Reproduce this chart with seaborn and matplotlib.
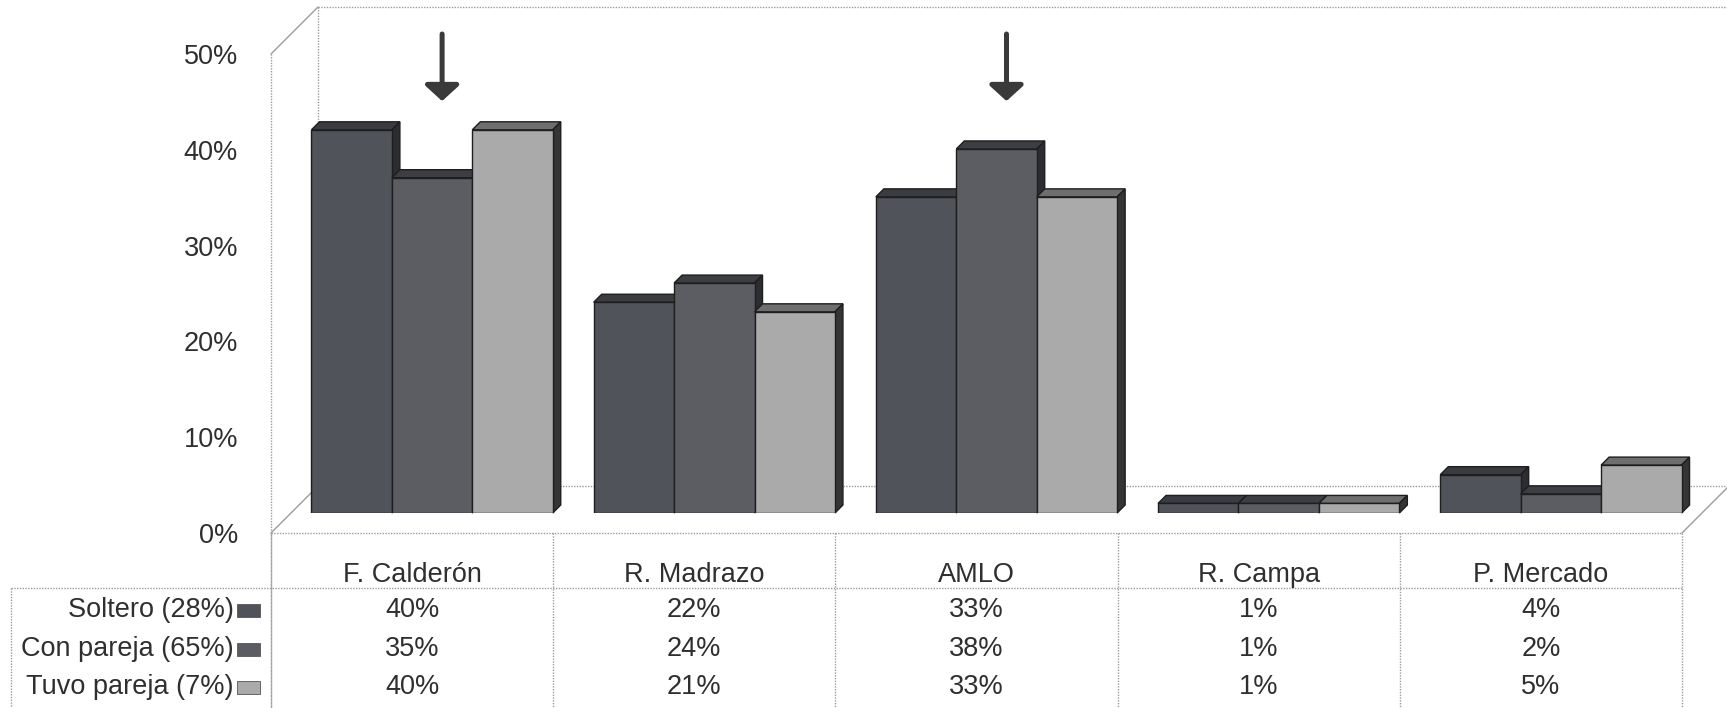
import pandas as pd
import matplotlib
matplotlib.use("Agg")
import matplotlib.pyplot as plt
import seaborn as sns
from matplotlib.patches import Polygon, Rectangle

# Data
candidatos = ["F. Calderón", "R. Madrazo", "AMLO", "R. Campa", "P. Mercado"]
grupos = ["Soltero (28%)", "Con pareja (65%)", "Tuvo pareja (7%)"]
soltero = [40, 22, 33, 1, 4]
con_pareja = [35, 24, 38, 1, 2]
tuvo_pareja = [40, 21, 33, 1, 5]
ticks = [0, 10, 20, 30, 40, 50]
flechas = ["F. Calderón", "AMLO"]

df = pd.DataFrame({
    "candidato": candidatos * 3,
    "grupo": [g for g in grupos for _ in candidatos],
    "pct": soltero + con_pareja + tuvo_pareja,
})

colores = {grupos[0]: "#50535a", grupos[1]: "#5b5d63", grupos[2]: "#aaaaaa"}
techo = {grupos[0]: "#3a3c42", grupos[1]: "#3c3e44", grupos[2]: "#6e6e6e"}
lado = {grupos[0]: "#2b2d31", grupos[1]: "#2b2d31", grupos[2]: "#353535"}

sns.set_theme(style="white")
plt.rcParams["font.family"] = ["Liberation Sans", "DejaVu Sans"]
texto = "#2f2f2f"
linea = "#9c9c9c"
fs = 19.5

# 3D layout in pixels (top-down)
W, H = 1727, 708
FRONT_X0, FRONT_Y0 = 271, 533
COL_W = 282.2
PX_PCT = 9.58
DEPTH = 47
BAR_SHIFT = 20
BAR_DEPTH = 8
n = len(candidatos)
ymax = ticks[-1]

fig = plt.figure(figsize=(W / 100, H / 100), dpi=100)
bg = fig.add_axes([0, 0, 1, 1], zorder=0)
bg.set_xlim(0, W)
bg.set_ylim(H, 0)
bg.axis("off")

# walls and floor
x_r = FRONT_X0 + n * COL_W
y_top = FRONT_Y0 - ymax * PX_PCT
kw = dict(color=linea, lw=1.0, ls=(0, (1, 1)))
bg.plot([FRONT_X0, FRONT_X0], [H, y_top], **kw)
bg.plot([FRONT_X0 + DEPTH] * 2, [FRONT_Y0 - DEPTH, y_top - DEPTH], **kw)
bg.plot([FRONT_X0 + DEPTH, W], [y_top - DEPTH] * 2, **kw)
bg.plot([FRONT_X0 + DEPTH, W], [FRONT_Y0 - DEPTH] * 2, **kw)
bg.plot([FRONT_X0, x_r], [FRONT_Y0] * 2, **kw)
for xa, ya in [(FRONT_X0, y_top), (FRONT_X0, FRONT_Y0), (x_r, FRONT_Y0)]:
    bg.plot([xa, xa + DEPTH], [ya, ya - DEPTH], color=linea, lw=1.0)

# y tick labels on the front plane
for t in ticks:
    bg.text(238, FRONT_Y0 - t * PX_PCT + 3, f"{t}%", ha="right", va="center",
            fontsize=fs, color=texto)

# data table
tabla_top = 588
filas_y = [610, 649, 687]
bg.plot([11, x_r], [tabla_top] * 2, **kw)
bg.plot([11, 11], [tabla_top, H], **kw)
for i in range(n + 1):
    xb = FRONT_X0 + i * COL_W
    bg.plot([xb, xb], [FRONT_Y0, H], **kw)
series = [soltero, con_pareja, tuvo_pareja]
for i, c in enumerate(candidatos):
    xc = FRONT_X0 + (i + 0.5) * COL_W
    bg.text(xc, 575, c, ha="center", va="center", fontsize=fs, color=texto)
    for vals, yy in zip(series, filas_y):
        bg.text(xc, yy, f"{vals[i]}%", ha="center", va="center", fontsize=fs, color=texto)
for g, yy in zip(grupos, filas_y):
    bg.text(234, yy, g, ha="right", va="center", fontsize=fs, color=texto)
    bg.add_patch(Rectangle((237, yy - 6), 23, 13, facecolor=colores[g],
                           edgecolor="#555555", lw=0.6))

# bars on their own axes, sitting mid-depth
bar_left = FRONT_X0 + BAR_SHIFT
bar_base = FRONT_Y0 - BAR_SHIFT
ax = fig.add_axes([bar_left / W, (H - bar_base) / H, n * COL_W / W, ymax * PX_PCT / H],
                  zorder=1)
ax.patch.set_alpha(0)
sns.barplot(data=df, x="candidato", y="pct", hue="grupo", order=candidatos,
            hue_order=grupos, palette=colores, saturation=1, width=0.855,
            edgecolor="#1e1e1e", linewidth=1.0, errorbar=None, legend=False, ax=ax)
ax.set_xlim(-0.5, n - 0.5)
ax.set_ylim(0, ymax)
ax.axis("off")

ddx = BAR_DEPTH / COL_W
ddy = BAR_DEPTH / PX_PCT
barras = []
for cont, g in zip(ax.containers, grupos):
    for p in cont.patches:
        barras.append((p.get_x(), p, g))
barras.sort(key=lambda b: b[0])
for k, (x0, p, g) in enumerate(barras):
    w, h = p.get_width(), p.get_height()
    z = 2 + 2 * k
    top = Polygon([(x0, h), (x0 + w, h), (x0 + w + ddx, h + ddy), (x0 + ddx, h + ddy)],
                  closed=True, facecolor=techo[g], edgecolor="#1e1e1e", lw=1.0,
                  zorder=z, clip_on=False)
    side = Polygon([(x0 + w, 0), (x0 + w + ddx, ddy), (x0 + w + ddx, h + ddy), (x0 + w, h)],
                   closed=True, facecolor=lado[g], edgecolor="#1e1e1e", lw=1.0,
                   zorder=z, clip_on=False)
    ax.add_patch(top)
    ax.add_patch(side)
    p.set_zorder(z + 1)

# arrows over the highlighted candidates
for c in flechas:
    xi = candidatos.index(c) + 10 / COL_W
    ax.annotate("", xy=(xi, 43), xytext=(xi, 50),
                arrowprops=dict(arrowstyle="-|>,head_length=0.2,head_width=0.22",
                                mutation_scale=48, lw=3.6, color="#3a3a3a",
                                shrinkA=0, shrinkB=0),
                annotation_clip=False, zorder=100)

fig.savefig("out.png", dpi=100, facecolor="white")
